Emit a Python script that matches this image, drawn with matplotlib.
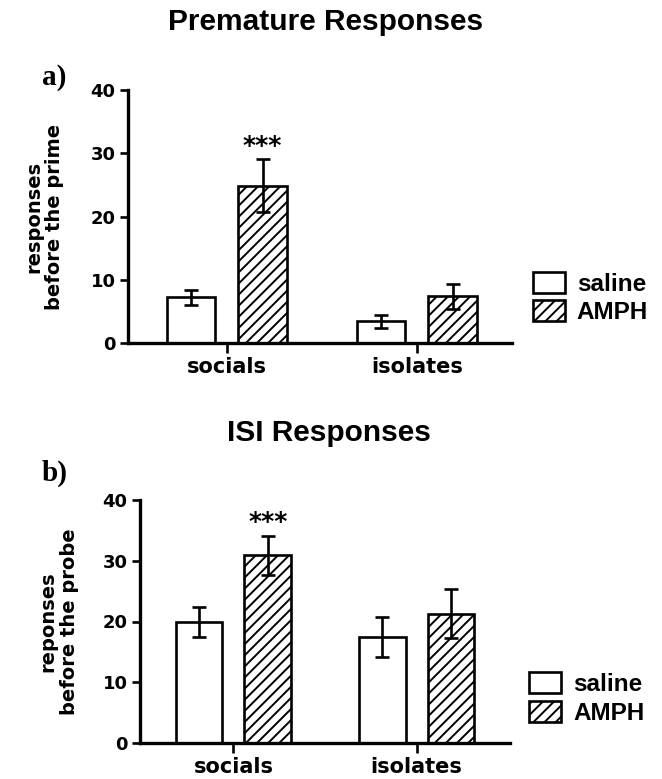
import matplotlib

matplotlib.use("Agg")
import matplotlib.pyplot as plt
from matplotlib.patches import Patch

plt.rcParams["font.family"] = ["DejaVu Sans"]
plt.rcParams["font.weight"] = "bold"
plt.rcParams["axes.labelweight"] = "bold"
plt.rcParams["hatch.linewidth"] = 1.4

GROUPS = ["socials", "isolates"]
TREATMENTS = ["saline", "AMPH"]

# panel a: premature responses (mean, sem)
PREM_MEAN = {"saline": [7.2, 3.4], "AMPH": [24.9, 7.4]}
PREM_SEM = {"saline": [1.15, 0.95], "AMPH": [4.2, 1.95]}

# panel b: ISI responses (mean, sem)
ISI_MEAN = {"saline": [19.9, 17.5], "AMPH": [30.9, 21.3]}
ISI_SEM = {"saline": [2.5, 3.3], "AMPH": [3.25, 4.05]}

OFFSETS = {"saline": -0.188, "AMPH": 0.188}
HATCH = {"saline": "", "AMPH": "///"}
W = 0.255
LW = 1.9
TITLE_FONT = ["Liberation Sans", "DejaVu Sans"]


def draw_panel(ax, means, sems, ylabel, xlim, leg_x, leg_y):
    for t in TREATMENTS:
        xs = [i + OFFSETS[t] for i in range(len(GROUPS))]
        ax.bar(xs, means[t], W, color="white", edgecolor="black",
               linewidth=LW, hatch=HATCH[t], zorder=2)
        ax.errorbar(xs, means[t], yerr=sems[t], fmt="none", ecolor="black",
                    elinewidth=LW, capsize=5, capthick=LW, zorder=3)
    ax.set_xlim(*xlim)
    ax.set_ylim(0, 40)
    ax.set_yticks([0, 10, 20, 30, 40])
    ax.set_xticks(range(len(GROUPS)))
    ax.set_xticklabels(GROUPS, fontsize=15)
    ax.tick_params(axis="y", labelsize=13, width=LW, length=6, pad=3)
    ax.tick_params(axis="x", width=LW, length=7, pad=3)
    for s in ("top", "right"):
        ax.spines[s].set_visible(False)
    for s in ("left", "bottom"):
        ax.spines[s].set_linewidth(2.4)
    ax.set_ylabel(ylabel, fontsize=14, linespacing=1.15)
    ax.yaxis.set_label_coords(-0.166, 0.5)
    handles = [Patch(facecolor="white", edgecolor="black", linewidth=LW,
                     hatch=HATCH[t], label=t) for t in TREATMENTS]
    ax.legend(handles=handles, loc="center left", bbox_to_anchor=(leg_x, leg_y),
              frameon=False, borderpad=0, borderaxespad=0,
              prop={"family": TITLE_FONT, "weight": "bold", "size": 17.5},
              handlelength=1.3, handleheight=0.95, handletextpad=0.5,
              labelspacing=0.2)
    ax.text(OFFSETS["AMPH"], means["AMPH"][0] + sems["AMPH"][0] + 1.0, "***",
            ha="center", va="baseline", fontsize=18)


fig = plt.figure(figsize=(6.62, 7.79), dpi=100)
ax1 = fig.add_axes([128 / 662, 1 - 343 / 779, 384 / 662, 253 / 779])
ax2 = fig.add_axes([140 / 662, 1 - 743 / 779, 370 / 662, 243 / 779])

draw_panel(ax1, PREM_MEAN, PREM_SEM, "responses\nbefore the prime",
           (-0.52, 1.5), 1.055, 0.178)
draw_panel(ax2, ISI_MEAN, ISI_SEM, "reponses\nbefore the probe",
           (-0.51, 1.51), 1.052, 0.184)

fig.text(0.492, 0.972, "Premature Responses", ha="center", va="center",
         fontsize=21.5, family=TITLE_FONT)
fig.text(0.497, 0.444, "ISI Responses", ha="center", va="center",
         fontsize=21.5, family=TITLE_FONT)
fig.text(0.082, 0.901, "a)", ha="center", va="center", fontsize=21,
         family=["Liberation Serif", "DejaVu Serif"])
fig.text(0.082, 0.393, "b)", ha="center", va="center", fontsize=21,
         family=["Liberation Serif", "DejaVu Serif"])

fig.savefig("out.png", dpi=100)
